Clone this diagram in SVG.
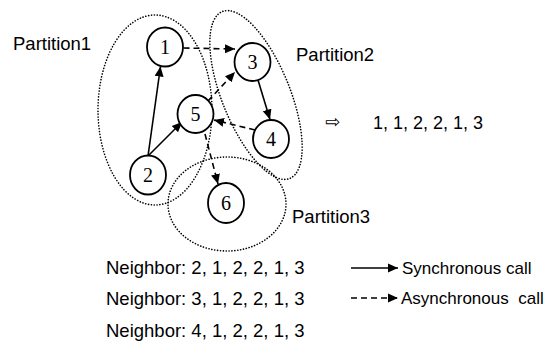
<svg xmlns="http://www.w3.org/2000/svg" width="553" height="358" viewBox="0 0 553 358">
  <defs>
    <marker id="arrow" viewBox="0 0 10 10" refX="10" refY="5" markerWidth="10" markerHeight="10" markerUnits="userSpaceOnUse" orient="auto">
      <path d="M0,0.5 L10,5 L0,9.5 Z" fill="#000"/>
    </marker>
  </defs>
  <style>
    .bg { fill: #fff; }
    .part { fill: none; stroke: #000; stroke-width: 1.6; stroke-dasharray: 0.1 2.8; stroke-linecap: round; }
    .node ellipse { fill: #fff; stroke: #000; stroke-width: 1.8; }
    .node text { font-family: "Liberation Serif", "Times New Roman", serif; font-size: 20px; fill: #000; text-anchor: middle; }
    .sync { stroke: #000; stroke-width: 1.6; fill: none; marker-end: url(#arrow); }
    .async { stroke: #000; stroke-width: 1.6; fill: none; stroke-dasharray: 6 4; marker-end: url(#arrow); }
    .lbl { font-family: "Liberation Sans", Arial, sans-serif; font-size: 18.5px; fill: #000; }
    .seq { font-family: "Liberation Sans", Arial, sans-serif; font-size: 18px; fill: #000; }
    .nb { font-family: "Liberation Sans", Arial, sans-serif; font-size: 18.5px; fill: #000; }
    .leg { font-family: "Liberation Sans", Arial, sans-serif; font-size: 17px; fill: #000; }
  </style>
  <rect class="bg" x="0" y="0" width="553" height="358"/>

  <!-- partition boundaries -->
  <g id="partitions">
    <ellipse class="part" cx="155" cy="110" rx="57" ry="95"/>
    <ellipse class="part" cx="256" cy="95" rx="34" ry="90" transform="rotate(-22 256 95)"/>
    <ellipse class="part" cx="227" cy="204" rx="59" ry="47"/>
  </g>
  <text class="lbl" x="13" y="50">Partition1</text>
  <text class="lbl" x="296" y="61">Partition2</text>
  <text class="lbl" x="292" y="223">Partition3</text>

  <!-- calls between nodes -->
  <g id="connectors">
    <line class="sync" x1="148" y1="156" x2="160.5" y2="66.5"/>
    <line class="sync" x1="148" y1="156" x2="182" y2="122"/>
    <line class="sync" x1="258" y1="80" x2="270" y2="119.5"/>
    <line class="async" x1="183.5" y1="48" x2="235" y2="49"/>
    <line class="async" x1="208" y1="101" x2="235" y2="72"/>
    <line class="async" x1="255" y1="130" x2="214" y2="120"/>
    <line class="async" x1="205" y1="134" x2="218" y2="184"/>
  </g>

  <g id="n1" class="node"><ellipse cx="165" cy="47" rx="18" ry="19.5"/><text x="165" y="54">1</text></g>
  <g id="n2" class="node"><ellipse cx="148" cy="175" rx="18" ry="19.5"/><text x="148" y="182">2</text></g>
  <g id="n3" class="node"><ellipse cx="252.5" cy="62" rx="18" ry="19"/><text x="252.5" y="69">3</text></g>
  <g id="n4" class="node"><ellipse cx="271" cy="139" rx="18" ry="19"/><text x="271" y="146">4</text></g>
  <g id="n5" class="node"><ellipse cx="195.5" cy="114" rx="18" ry="19"/><text x="195.5" y="121">5</text></g>
  <g id="n6" class="node"><ellipse cx="226" cy="203" rx="18" ry="20"/><text x="226" y="210">6</text></g>

  <!-- resulting sequence -->
  <text x="325" y="128" font-family="DejaVu Sans, sans-serif" font-size="18px">⇨</text>
  <text class="seq" x="373" y="129">1, 1, 2, 2, 1, 3</text>

  <!-- neighbor sequences -->
  <text class="nb" x="106" y="274">Neighbor: 2, 1, 2, 2, 1, 3</text>
  <text class="nb" x="106" y="305">Neighbor: 3, 1, 2, 2, 1, 3</text>
  <text class="nb" x="106" y="337">Neighbor: 4, 1, 2, 2, 1, 3</text>

  <!-- legend -->
  <g id="legend">
    <line class="sync" x1="351" y1="268" x2="398" y2="268"/>
    <text class="leg" x="402" y="274">Synchronous call</text>
    <line class="async" x1="351" y1="298" x2="398" y2="298" stroke-dasharray="6 5"/>
    <text class="leg" x="401" y="304" xml:space="preserve">Asynchronous  call</text>
  </g>
</svg>
